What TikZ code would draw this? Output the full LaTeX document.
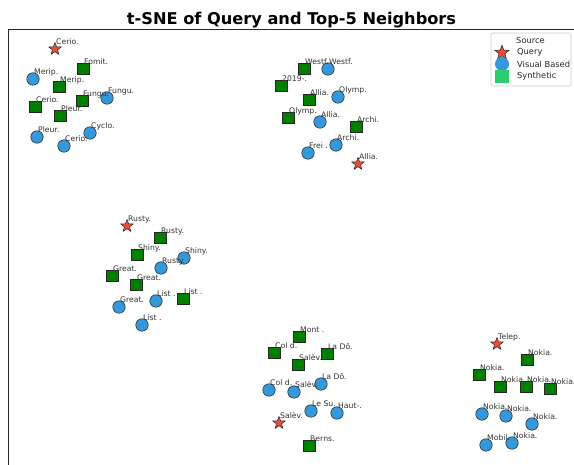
\documentclass[tikz,border=0pt]{standalone}
\usepackage{fontspec}
\setmainfont{DejaVu Sans}
\usetikzlibrary{shapes.geometric}
\definecolor{qred}{HTML}{E74C3C}
\definecolor{vblue}{HTML}{3498DB}
\definecolor{sgreen}{HTML}{008000}
\definecolor{lgreen}{HTML}{2ECC71}
\tikzset{
  qmark/.style={star,star points=5,star point ratio=2.4,minimum size=13pt,inner sep=0pt,fill=qred,draw=black!85,line width=0.5pt},
  vmark/.style={circle,minimum size=12.5pt,inner sep=0pt,fill=vblue,draw=black!85,line width=0.5pt},
  smark/.style={rectangle,minimum size=11.5pt,inner sep=0pt,fill=sgreen,draw=black!85,line width=0.5pt},
  lab/.style={anchor=base west,inner sep=0pt,font=\fontsize{7.7}{9}\selectfont,text=black!80},
  legtext/.style={anchor=west,inner sep=0pt,font=\fontsize{8.3}{10}\selectfont,text=black!85},
}
\begin{document}
\begin{tikzpicture}[x=1pt,y=-1pt]
\clip (0,0) rectangle (574,465);
\fill[white] (0,0) rectangle (574,465);
% title
\node[anchor=base,inner sep=0pt,font=\bfseries\fontsize{16.2}{19}\selectfont] (title) at (291.5,25) {t-SNE of Query and Top-5 Neighbors};
% axes frame
\coordinate (fbl) at (8,470);
\coordinate (ftl) at (8,29);
\coordinate (ftr) at (580,29);
\draw[line width=0.9pt,black!85] (fbl) -- (ftl) -- (ftr);
% synthetic
\foreach \n/\x/\y/\t in {1/83/69/Fomit., 2/59/87/Merip., 3/35/107/Cerio., 4/82/101/Fungu., 5/60/116/Pleur.,
  6/304/69/Westf., 7/281/86/2019-., 8/309/100/Allia., 9/288/118/Olymp., 10/356/127/Archi.,
  11/160/238/Rusty., 12/137/255/Shiny., 13/112/276/Great., 14/136/285/Great., 15/183/299/List .,
  16/299/337/Mont ., 17/274/353/Col d., 18/327/354/La Dô., 19/298/365/Salèv., 20/309/446/Berns.,
  21/527/360/Nokia., 22/479/375/Nokia., 23/500/387/Nokia., 24/526/387/Nokia., 25/550/389/Nokia.}
  {\node[smark] (s\n) at (\x,\y) {};}
% visual
\foreach \n/\x/\y/\t in {1/33/79/Merip., 2/107/98/Fungu., 3/37/137/Pleur., 4/64/146/Cerio., 5/90/133/Cyclo.,
  6/328/69/Westf., 7/338/97/Olymp., 8/320/122/Allia., 9/336/145/Archi., 10/308/153/Frei .,
  11/184/258/Shiny., 12/161/268/Rusty., 13/119/307/Great., 14/156/301/List ., 15/142/325/List .,
  16/269/390/Col d., 17/294/392/Salèv., 18/321/384/La Dô., 19/311/411/Le Su., 20/337/413/Haut-.,
  21/482/414/Nokia., 22/506/416/Nokia., 23/532/424/Nokia., 24/486/445/Mobil., 25/512/443/Nokia.}
  {\node[vmark] (v\n) at (\x,\y) {};}
% queries
\foreach \n/\x/\y/\t in {1/55/49/Cerio., 2/358/164/Allia., 3/127/226/Rusty., 4/279/423/Salèv., 5/497/344/Telep.}
  {\node[qmark] (q\n) at (\x,\y) {};}
% labels
\foreach \n/\t in {1/Fomit., 2/Merip., 3/Cerio., 4/Fungu., 5/Pleur., 6/Westf., 7/2019-., 8/Allia., 9/Olymp., 10/Archi.,
  11/Rusty., 12/Shiny., 13/Great., 14/Great., 15/List ., 16/Mont ., 17/Col d., 18/La Dô., 19/Salèv., 20/Berns.,
  21/Nokia., 22/Nokia., 23/Nokia., 24/Nokia., 25/Nokia.}
  {\node[lab] (ls\n) at ([shift={(1pt,4pt)}]s\n.center) {\t};}
\foreach \n/\t in {1/Merip., 2/Fungu., 3/Pleur., 4/Cerio., 5/Cyclo., 6/Westf., 7/Olymp., 8/Allia., 9/Archi., 10/Frei .,
  11/Shiny., 12/Rusty., 13/Great., 14/List ., 15/List ., 16/Col d., 17/Salèv., 18/La Dô., 19/Le Su., 20/Haut-.,
  21/Nokia., 22/Nokia., 23/Nokia., 24/Mobil., 25/Nokia.}
  {\node[lab] (lv\n) at ([shift={(1pt,4pt)}]v\n.center) {\t};}
\foreach \n/\t in {1/Cerio., 2/Allia., 3/Rusty., 4/Salèv., 5/Telep.}
  {\node[lab] (lq\n) at ([shift={(1pt,4pt)}]q\n.center) {\t};}
% legend
\draw[draw=black!20,fill=white,fill opacity=0.9,rounded corners=2pt,line width=0.6pt] (491,33) rectangle (571,86);
\node[inner sep=0pt,font=\fontsize{8.3}{10}\selectfont,text=black!85] (legtitle) at (530.5,40.7) {Source};
\node[qmark,minimum size=15pt] (legq) at (502,52.7) {};
\node[vmark,minimum size=14pt,draw=none] (legv) at (502,64) {};
\node[smark,minimum size=13.5pt,fill=lgreen,draw=none] (legs) at (502,76.7) {};
\node[legtext] (legqt) at (517,52.7) {Query};
\node[legtext] (legvt) at (517,64.5) {Visual Based};
\node[legtext] (legst) at (517,76.7) {Synthetic};
\end{tikzpicture}
\end{document}
